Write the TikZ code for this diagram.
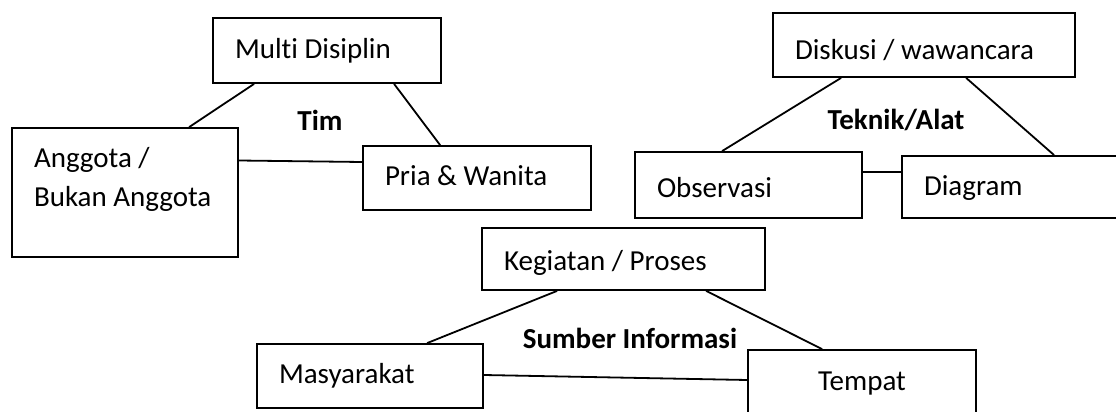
\documentclass[tikz,border=0pt]{standalone}
\usepackage{fontspec}
\setmainfont{Carlito}[Ligatures=NoCommon]
\usetikzlibrary{positioning}

\begin{document}
\begin{tikzpicture}[x=0.5pt,y=-0.5pt,
  box/.style={draw,line width=0.9pt,minimum height=32pt,inner xsep=11pt,inner ysep=0pt,text width=92pt,align=flush left,font=\fontsize{14.5}{20}\selectfont},
  sbox/.style={box,text height=10pt,text depth=3pt},
  lbl/.style={font=\fontsize{14.5}{20}\selectfont\bfseries},
  con/.style={line width=0.9pt}
]
\path[use as bounding box,clip] (0,0) rectangle (1116,412);

\node[sbox,minimum height=32.5pt,text height=11pt] (multi) at (327,50.5) {Multi Disiplin};
\node[box,text width=91pt,minimum height=64.5pt,text height=10pt,text depth=35.5pt] (anggota) at (125,192.5) {Anggota /\\Bukan Anggota};
\node[sbox] (pria) at (477,178) {Pria \& Wanita};
\draw[con] ([xshift=21pt]multi.south west) -- ([xshift=89pt]anggota.north west);
\draw[con] ([xshift=91pt]multi.south west) -- ([xshift=39pt]pria.north west);
\draw[con] ([yshift=16pt]anggota.east) -- ([yshift=8pt]pria.west);
\node[lbl] (tim) at (320,120) {Tim};

\node[sbox,text width=129pt,text height=18pt] (diskusi) at (924,45) {Diskusi / wawancara};
\node[sbox,text width=91.5pt,minimum height=33pt,text height=15pt] (observasi) at (748.5,185) {Observasi};
\node[sbox,minimum height=31pt,text height=11pt] (diagram) at (1016,187) {Diagram};
\draw[con] ([xshift=34.5pt]diskusi.south west) -- ([xshift=44pt]observasi.north west);
\draw[con] ([xshift=97pt]diskusi.south west) -- ([xshift=76.5pt]diagram.north west);
\draw[con] ([yshift=6.5pt]observasi.east) -- ([yshift=7.5pt]diagram.west);
\node[lbl] (teknik) at (896,120) {Teknik/Alat};

\node[sbox,text width=119.5pt,minimum height=31pt,text height=14pt] (kegiatan) at (623.5,259) {Kegiatan / Proses};
\node[sbox,text width=91pt] (masyarakat) at (370,376) {Masyarakat};
\node[sbox,minimum height=33pt,align=flush center] (tempat) at (862,383) {Tempat};
\draw[con] ([xshift=38pt]kegiatan.south west) -- ([xshift=85.5pt]masyarakat.north west);
\draw[con] ([xshift=112.5pt]kegiatan.south west) -- ([xshift=37.5pt]tempat.north west);
\draw[con] ([yshift=0.5pt]masyarakat.east) -- ([yshift=1.5pt]tempat.west);
\node[lbl] (sumber) at (630,338) {Sumber Informasi};
\end{tikzpicture}
\end{document}
